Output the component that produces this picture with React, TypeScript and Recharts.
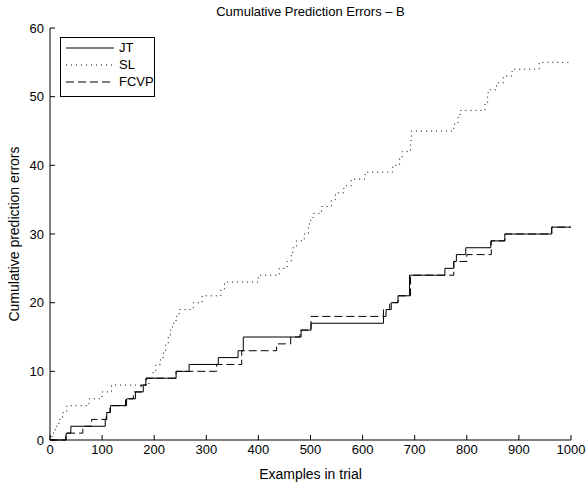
import { LineChart, Line, XAxis, YAxis, Legend } from 'recharts';

// step change points: x = example index, y = cumulative errors
const jtX = [0, 31, 40, 106, 109, 116, 147, 164, 179, 184, 242, 267, 323, 361, 371, 482, 501, 640, 645, 655, 668, 690, 758, 775, 780, 798, 846, 873, 963, 1000];
const jtY = [0, 1, 2, 3, 4, 5, 6, 7, 8, 9, 10, 11, 12, 13, 15, 16, 17, 18, 19, 20, 21, 24, 25, 26, 27, 28, 29, 30, 31, 31];

const slX = [0, 4, 10, 17, 24, 32, 75, 100, 118, 190, 198, 203, 212, 218, 222, 227, 231, 235, 242, 248, 275, 292, 328, 335, 400, 440, 455, 463, 466, 473, 488, 496, 498, 505, 521, 540, 548, 564, 578, 605, 658, 671, 676, 692, 693, 694, 775, 783, 787, 835, 840, 841, 857, 870, 887, 939, 1000];
const slY = [0, 1, 2, 3, 4, 5, 6, 7, 8, 9, 10, 11, 12, 13, 14, 15, 16, 17, 18, 19, 20, 21, 22, 23, 24, 25, 26, 27, 28, 29, 30, 31, 32, 33, 34, 35, 36, 37, 38, 39, 40, 41, 42, 43, 44, 45, 46, 47, 48, 49, 50, 51, 52, 53, 54, 55, 55];

const fcvpX = [0, 30, 63, 80, 108, 115, 145, 160, 175, 185, 242, 320, 368, 435, 462, 480, 501, 640, 652, 668, 692, 775, 800, 847, 873, 963, 1000];
const fcvpY = [0, 1, 2, 3, 4, 5, 6, 7, 8, 9, 10, 11, 13, 14, 15, 16, 18, 19, 20, 21, 24, 26, 27, 29, 30, 31, 31];

const xTicks = [0, 100, 200, 300, 400, 500, 600, 700, 800, 900, 1000];
const yTicks = [0, 10, 20, 30, 40, 50, 60];

const toPoints = (xs: number[], ys: number[]) => xs.map((x, i) => ({ x, y: ys[i] }));

const series = [
  { name: 'JT', data: toPoints(jtX, jtY), dash: undefined as string | undefined },
  { name: 'SL', data: toPoints(slX, slY), dash: '1 4' },
  { name: 'FCVP', data: toPoints(fcvpX, fcvpY), dash: '8 4' },
];

const FONT = '"Liberation Sans", Arial, Helvetica, sans-serif';
const tickStyle = { fill: '#000', fontSize: 13, fontFamily: FONT };

const LegendBox = () => (
  <div
    style={{
      border: '1px solid #000',
      background: '#fff',
      width: 95,
      height: 60,
      boxSizing: 'border-box',
      paddingTop: 1,
      fontFamily: FONT,
    }}
  >
    {series.map((s) => (
      <div key={s.name} style={{ display: 'flex', alignItems: 'center', height: 17 }}>
        <svg width={52} height={10} style={{ marginLeft: 3 }}>
          <line x1={2} y1={5} x2={50} y2={5} stroke="#000" strokeWidth={1} strokeDasharray={s.dash} />
        </svg>
        <span style={{ fontSize: 13, marginLeft: 3, color: '#000' }}>{s.name}</span>
      </div>
    ))}
  </div>
);

export default function App() {
  return (
    <div style={{ position: 'absolute', left: 0, top: 0, width: 588, height: 484, background: '#fff', fontFamily: FONT }}>
      <div
        style={{
          position: 'absolute',
          left: 50,
          width: 521,
          top: 4,
          textAlign: 'center',
          fontSize: 13,
          color: '#000',
        }}
      >
        Cumulative Prediction Errors – B
      </div>
      <LineChart width={588} height={484} margin={{ top: 28, right: 17, bottom: 0, left: 0 }}>
        <XAxis
          type="number"
          dataKey="x"
          domain={[0, 1000]}
          ticks={xTicks}
          interval={0}
          allowDataOverflow
          height={44}
          tickSize={-5}
          tickMargin={10}
          tick={tickStyle}
          axisLine={{ stroke: '#000' }}
          tickLine={{ stroke: '#000' }}
          label={{ value: 'Examples in trial', position: 'insideBottom', offset: 5, fill: '#000', fontSize: 14, fontFamily: FONT }}
        />
        <XAxis
          xAxisId="top"
          orientation="top"
          type="number"
          dataKey="x"
          domain={[0, 1000]}
          ticks={xTicks}
          interval={0}
          height={0}
          tickSize={-5}
          tickFormatter={() => ''}
          axisLine={{ stroke: '#000' }}
          tickLine={{ stroke: '#000' }}
        />
        <YAxis
          type="number"
          dataKey="y"
          domain={[0, 60]}
          ticks={yTicks}
          interval={0}
          width={50}
          tickSize={-5}
          tickMargin={11}
          tick={tickStyle}
          axisLine={{ stroke: '#000' }}
          tickLine={{ stroke: '#000' }}
          label={{
            value: 'Cumulative prediction errors',
            angle: -90,
            position: 'insideLeft',
            offset: 14,
            fill: '#000',
            fontSize: 14,
            fontFamily: FONT,
            style: { textAnchor: 'middle' },
          }}
        />
        <YAxis
          yAxisId="right"
          orientation="right"
          type="number"
          domain={[0, 60]}
          ticks={yTicks}
          interval={0}
          width={0}
          tickSize={-5}
          tickFormatter={() => ''}
          axisLine={{ stroke: '#000' }}
          tickLine={{ stroke: '#000' }}
        />
        <Legend
          layout="horizontal"
          verticalAlign="middle"
          align="center"
          content={() => <LegendBox />}
          wrapperStyle={{ left: 60, top: 37, width: 'auto' }}
        />
        {series.map((s) => (
          <Line
            key={s.name}
            data={s.data}
            dataKey="y"
            name={s.name}
            type="stepAfter"
            stroke="#000"
            strokeWidth={1}
            strokeDasharray={s.dash}
            dot={false}
            activeDot={false}
            isAnimationActive={false}
          />
        ))}
      </LineChart>
    </div>
  );
}
